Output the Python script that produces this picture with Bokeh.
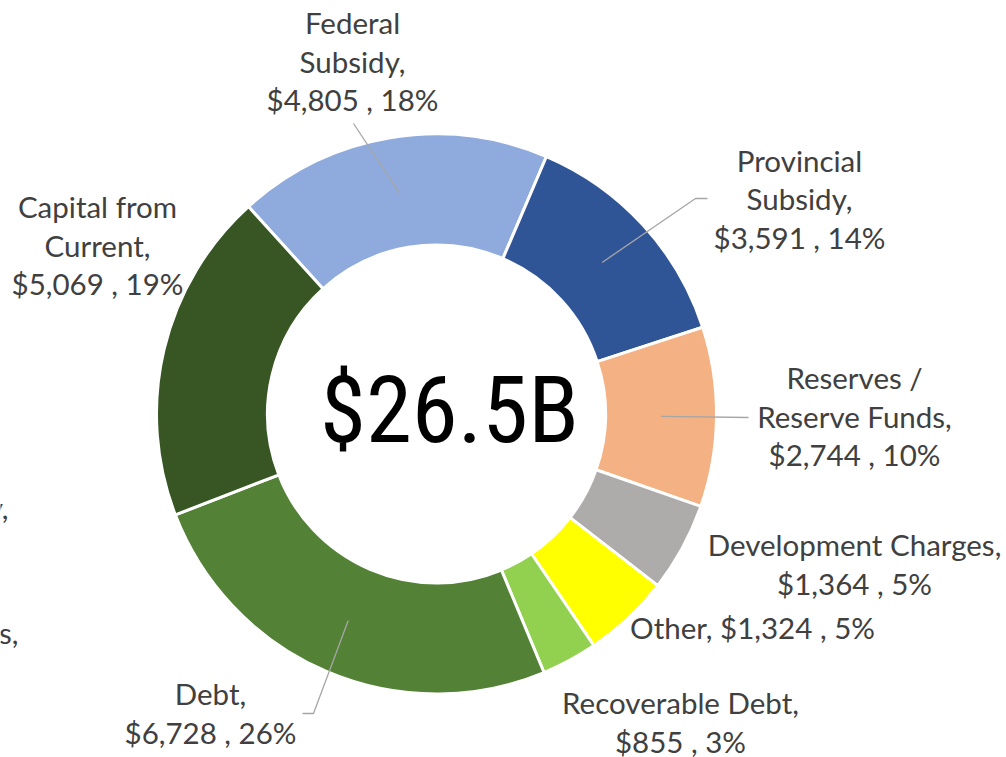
import math
from bokeh.plotting import figure
from bokeh.models import Range1d, ColumnDataSource
from bokeh.core.properties import value
from bokeh.embed import file_html
from bokeh.resources import INLINE

# ---------------- data ----------------
categories = ["Federal Subsidy", "Provincial Subsidy", "Reserves / Reserve Funds",
              "Development Charges", "Other", "Recoverable Debt", "Debt",
              "Capital from Current"]
values = [4805, 3591, 2744, 1364, 1324, 855, 6728, 5069]
percents = [18, 14, 10, 5, 5, 3, 26, 19]
center_label = "$26.5B"
colors = ["#8FAADC", "#2F5597", "#F4B183", "#AEABAB", "#FFFF00", "#92D050",
          "#538135", "#375623"]

# ---------------- layout (page pixels) ----------------
W, H = 1006, 757
CX, CY = 436, 413.5
R_OUT, R_IN = 280, 169
START_CW = -42.2          # degrees clockwise from 12 o'clock for first slice
LINE_H = 38.5
FONT = "Lato"
FSIZE = 29.5
MID_OFF = 11              # baseline lies this far below the 'middle' anchor
TXT = "#404040"
LEADER = "#A6A6A6"

# label text wrapping (line breaks) and placement: centre x, first baseline y
wrap = {
    "Federal Subsidy": ["Federal", "Subsidy,"],
    "Provincial Subsidy": ["Provincial", "Subsidy,"],
    "Reserves / Reserve Funds": ["Reserves /", "Reserve Funds,"],
    "Development Charges": ["Development Charges,"],
    "Other": None,
    "Recoverable Debt": ["Recoverable Debt,"],
    "Debt": ["Debt,"],
    "Capital from Current": ["Capital from", "Current,"],
}
label_pos = {
    "Federal Subsidy": (352, 33),
    "Provincial Subsidy": (799, 170.5),
    "Reserves / Reserve Funds": (854, 388),
    "Development Charges": (854, 555),
    "Other": (752, 638),
    "Recoverable Debt": (680, 713),
    "Debt": (210, 704),
    "Capital from Current": (97, 217),
}
# leader line elbow points (outer ends) for labels that have leaders
leader_pts = {
    "Federal Subsidy": [(353, 123)],
    "Provincial Subsidy": [(707, 198), (695, 198)],
    "Reserves / Reserve Funds": [(748, 417)],
    "Debt": [(302, 713), (313, 713)],
}


def Y(ypx):
    return H - ypx


p = figure(width=W, height=H, output_backend="svg", toolbar_location=None,
           x_range=Range1d(0, W), y_range=Range1d(0, H),
           min_border=0, outline_line_color=None, background_fill_color="white")
p.axis.visible = False
p.grid.visible = False

total = sum(values)
starts, ends, mids = [], [], []
acc = 0.0
for v in values:
    a0 = START_CW + acc / total * 360
    acc += v
    a1 = START_CW + acc / total * 360
    starts.append(math.radians(90 - a1))
    ends.append(math.radians(90 - a0))
    mids.append((a0 + a1) / 2)

src = ColumnDataSource(dict(x=[CX] * len(values), y=[Y(CY)] * len(values),
                            start=starts, end=ends, color=colors))
p.annular_wedge(x="x", y="y", inner_radius=R_IN, outer_radius=R_OUT,
                start_angle="start", end_angle="end", direction="anticlock",
                fill_color="color", line_color="white", line_width=3, source=src)

# leader lines
r_mid = (R_IN + R_OUT) / 2
for i, cat in enumerate(categories):
    if cat not in leader_pts:
        continue
    th = math.radians(mids[i])
    px_ = CX + r_mid * math.sin(th)
    py_ = CY - r_mid * math.cos(th)
    pts = leader_pts[cat] + [(px_, py_)]
    p.line([q[0] for q in pts], [Y(q[1]) for q in pts], line_color=LEADER,
           line_width=1.3)

# labels
lx, ly, lt = [], [], []
for i, cat in enumerate(categories):
    tail = f"${values[i]:,} , {percents[i]}%"
    if wrap[cat] is None:
        lines = [f"{cat}, {tail}"]
    else:
        lines = wrap[cat] + [tail]
    x0, y0 = label_pos[cat]
    for k, ln in enumerate(lines):
        lx.append(x0)
        ly.append(Y(y0 + k * LINE_H - MID_OFF))
        lt.append(ln)
p.text(x=lx, y=ly, text=lt, text_align="center", text_baseline="middle",
       text_font=value(FONT), text_font_size=f"{FSIZE}px", text_color=TXT)

# clipped fragments of neighbouring labels at the left edge
p.text(x=[8, 18], y=[Y(518 - MID_OFF), Y(643 - MID_OFF)],
       text=["Subsidy,", "Reserves,"],
       text_align="right", text_baseline="middle", text_font=value(FONT),
       text_font_size=f"{FSIZE}px", text_color=TXT)

# centre total
p.text(x=[449], y=[Y(442 - 32)], text=[center_label], text_align="center",
       text_baseline="middle",
       text_font=value("Roboto Condensed, Liberation Sans Narrow, Noto Sans Condensed, "
                       "DejaVu Sans Condensed"),
       text_font_size="93px", text_color="black")

open("out.html", "w").write(file_html(p, INLINE))
